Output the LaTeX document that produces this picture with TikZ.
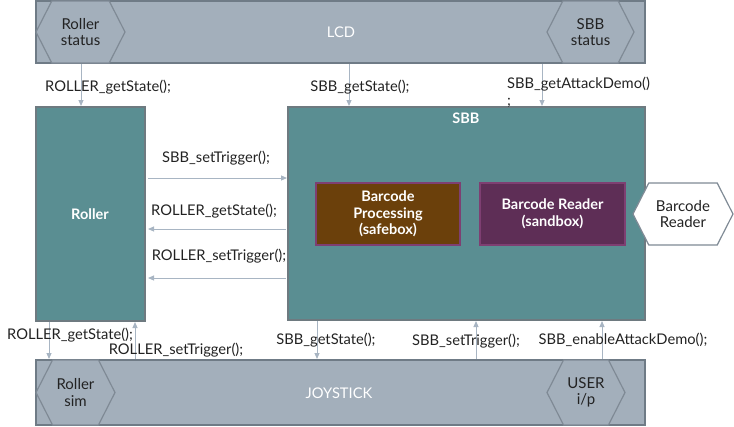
\documentclass[tikz,border=0pt]{standalone}
\usepackage{fontspec}
\setmainfont{Lato}
\usetikzlibrary{shapes.symbols,arrows.meta,calc}
\definecolor{panel}{HTML}{A3AFBB}
\definecolor{panelline}{HTML}{6F7B86}
\definecolor{hexline}{HTML}{7F8A95}
\definecolor{teal}{HTML}{5A8E92}
\definecolor{tealline}{HTML}{6E7A80}
\definecolor{brown}{HTML}{6B400B}
\definecolor{plum}{HTML}{5E2E56}
\definecolor{plumline}{HTML}{7E3F72}
\definecolor{arrowc}{HTML}{A8B5C3}
\definecolor{txt}{HTML}{222222}
\begin{document}
\begin{tikzpicture}[x=1pt,y=-1pt,
  font=\fontsize{14.7}{17}\selectfont,
  panelbox/.style={rectangle,draw=panelline,fill=panel,line width=2pt,inner sep=0pt},
  tealbox/.style={rectangle,draw=tealline,fill=teal,line width=2pt,inner sep=0pt},
  innerbox/.style={rectangle,draw=plumline,line width=1.5pt,inner sep=0pt,text=white,align=center,font=\fontsize{14.5}{16.5}\selectfont\bfseries},
  hexa/.style={signal,signal to=east and west,signal pointer angle=126,draw=hexline,fill=panel,line width=1.2pt,inner sep=0pt,text=txt,align=center,font=\fontsize{15}{16.5}\selectfont},
  arr/.style={draw=arrowc,line width=1pt,-{Triangle[length=6pt,width=5pt]}},
  lbl/.style={text=txt,inner sep=0pt},
  wlbl/.style={text=white,inner sep=0pt,font=\fontsize{14.5}{17}\selectfont\bfseries}]
\useasboundingbox (0,0) rectangle (734,426);
% panels
\node[panelbox,minimum width=609pt,minimum height=62pt] (lcd) at (340.5,32) {};
\node[panelbox,minimum width=609pt,minimum height=65pt] (joy) at (340.5,392.5) {};
\node[tealbox,minimum width=109pt,minimum height=214pt] (roller) at (90.5,214) {};
\node[tealbox,minimum width=357pt,minimum height=213pt] (sbb) at (466.5,213.5) {};
\node[innerbox,fill=brown,minimum width=144pt,minimum height=62pt] (bp) at (388,214) {Barcode\\Processing\\(safebox)};
\node[innerbox,fill=plum,minimum width=145pt,minimum height=62pt] (br) at (552.5,214) {Barcode Reader\\(sandbox)};
% hexagons
\node[hexa,minimum width=89pt,minimum height=62pt] (rstat) at (80.5,32) {Roller\\status};
\node[hexa,minimum width=87pt,minimum height=62pt] (sstat) at (590.5,32) {SBB\\status};
\node[hexa,minimum width=79pt,minimum height=65pt] (rsim) at (75.5,392.5) {Roller\\sim};
\node[hexa,minimum width=78pt,minimum height=65pt] (user) at (586,392.5) {USER\\i/p};
\node[hexa,fill=white,minimum width=100pt,minimum height=62pt] (brhex) at (683,214) {Barcode\\Reader};
% titles
\node[wlbl,font=\fontsize{14.7}{17}\selectfont] (lcdt) at (341,32) {LCD};
\node[wlbl,font=\fontsize{14.7}{17}\selectfont] (joyt) at (339,393) {JOYSTICK};
\node[wlbl] (sbbt) at (466,118) {SBB};
\node[wlbl] (rollert) at (90,214) {Roller};
% arrows top
\draw[arr] (lcd.south -| 81,0) -- (roller.north -| 81,0);
\draw[arr] (lcd.south -| 349,0) -- (sbb.north -| 349,0);
\draw[arr] (lcd.south -| 542,0) -- (sbb.north -| 542,0);
\node[lbl] (l1) at (108,87) {ROLLER\_getState();};
\node[lbl] (l2) at (360,87) {SBB\_getState();};
\node[lbl,anchor=north west,align=left] (l3) at (507,77) {SBB\_getAttackDemo()\\;};
% middle arrows
\draw[arr] ([xshift=2pt]roller.east |- 0,178) -- (sbb.west |- 0,178);
\draw[arr] ([xshift=-1pt]sbb.west |- 0,229) -- ([xshift=2pt]roller.east |- 0,229);
\draw[arr] ([xshift=-1pt]sbb.west |- 0,278) -- ([xshift=2pt]roller.east |- 0,278);
\node[lbl] (l4) at (216,158) {SBB\_setTrigger();};
\node[lbl] (l5) at (214,211) {ROLLER\_getState();};
\node[lbl] (l6) at (219,256) {ROLLER\_setTrigger();};
% bottom arrows
\draw[arr] (roller.south -| 49,0) -- (joy.north -| 49,0);
\draw[arr] (joy.north -| 135,0) -- (roller.south -| 135,0);
\draw[arr] (sbb.south -| 317,0) -- (joy.north -| 317,0);
\draw[arr] (joy.north -| 476,0) -- (sbb.south -| 476,0);
\draw[arr] (joy.north -| 602,0) -- (sbb.south -| 602,0);
\node[lbl] (l7) at (70,335) {ROLLER\_getState();};
\node[lbl] (l8) at (176,350) {ROLLER\_setTrigger();};
\node[lbl] (l9) at (326,340) {SBB\_getState();};
\node[lbl] (l10) at (466,341) {SBB\_setTrigger();};
\node[lbl] (l11) at (623,340) {SBB\_enableAttackDemo();};
\end{tikzpicture}
\end{document}
